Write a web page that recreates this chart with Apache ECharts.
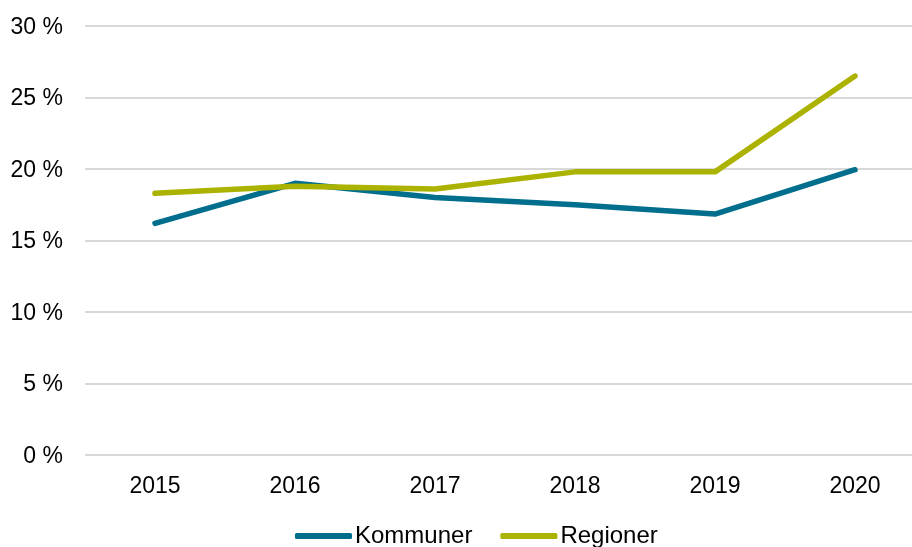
<!DOCTYPE html>
<html>
<head>
<meta charset="utf-8">
<script src="https://cdn.jsdelivr.net/npm/echarts@6/dist/echarts.min.js"></script>
<style>
  html, body { margin: 0; padding: 0; background: #fff; overflow: hidden; }
  #chart { width: 925px; height: 547px; }
</style>
</head>
<body>
<div id="chart"></div>
<script>
  var years = ['2015', '2016', '2017', '2018', '2019', '2020'];
  var kommuner = [16.2, 19.0, 18.0, 17.5, 16.85, 19.95];
  var regioner = [18.3, 18.8, 18.6, 19.8, 19.8, 26.5];

  // the plot runs a bit past the right edge of the window, as in the source
  var chart = echarts.init(document.getElementById('chart'));
  var font = 'Liberation Sans, Arial, sans-serif';

  chart.setOption({
    animation: false,
    grid: { left: 85, right: 0, top: 26, bottom: 92 },
    legend: {
      top: 519,
      left: 290,
      itemWidth: 57,
      itemHeight: 6,
      itemGap: 28,
      icon: 'roundRect',
      textStyle: { fontFamily: font, fontSize: 24, color: '#000', padding: [0, 0, 0, -2] },
      data: ['Kommuner', 'Regioner']
    },
    xAxis: {
      type: 'category',
      data: years,
      axisLine: { show: false },
      axisTick: { show: false },
      axisLabel: { fontFamily: font, fontSize: 23, color: '#000', margin: 20 }
    },
    yAxis: {
      type: 'value',
      min: 0,
      max: 30,
      interval: 5,
      axisLine: { show: false },
      axisTick: { show: false },
      axisLabel: { fontFamily: font, fontSize: 23, color: '#000', margin: 22, verticalAlign: 'top', padding: [-10, 0, 0, 0], formatter: '{value} %' },
      splitLine: { lineStyle: { color: '#d9d9d9', width: 2 } }
    },
    series: [
      {
        name: 'Kommuner',
        type: 'line',
        data: kommuner,
        color: '#006e8c',
        symbol: 'none',
        lineStyle: { width: 5.5, cap: 'round', join: 'round' }
      },
      {
        name: 'Regioner',
        type: 'line',
        data: regioner,
        color: '#abb300',
        symbol: 'none',
        lineStyle: { width: 5.5, cap: 'round', join: 'round' }
      }
    ]
  });
</script>
</body>
</html>
